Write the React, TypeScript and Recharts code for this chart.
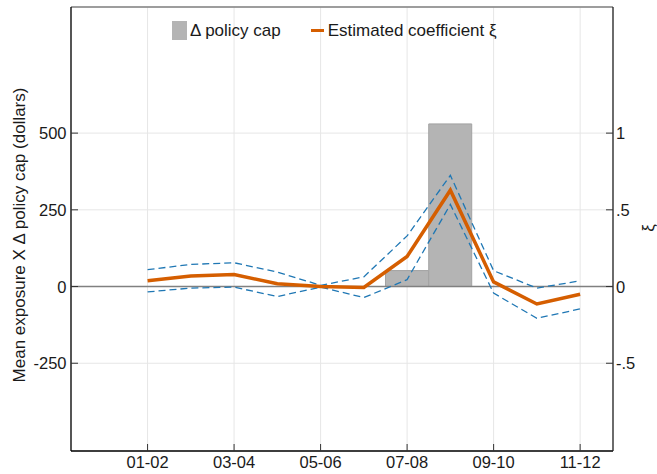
import { ComposedChart, Bar, Line, XAxis, YAxis, CartesianGrid, ReferenceLine } from 'recharts';

const periods = ['01-02', '02-03', '03-04', '04-05', '05-06', '06-07', '07-08', '08-09', '09-10', '10-11', '11-12'];
const capChange = [0, 0, 0, 0, 0, 0, 52, 530, 0, 0, 0];
const coef = [0.037, 0.068, 0.078, 0.018, 0, -0.006, 0.196, 0.628, 0.03, -0.114, -0.05];
const ciUpper = [0.11, 0.144, 0.155, 0.094, 0.008, 0.063, 0.33, 0.725, 0.103, -0.01, 0.037];
const ciLower = [-0.035, -0.01, -0.004, -0.065, -0.004, -0.072, 0.045, 0.535, -0.043, -0.207, -0.146];

const xTicks = [0, 2, 4, 6, 8, 10];
const leftTicks = [-250, 0, 250, 500];
const rightTicks = [-0.5, 0, 0.5, 1];
const rightTickLabels: Record<string, string> = { '-0.5': '-.5', '0': '0', '0.5': '.5', '1': '1' };

const LEFT_DOMAIN: [number, number] = [-536, 911];
const RIGHT_DOMAIN: [number, number] = [LEFT_DOMAIN[0] / 500, LEFT_DOMAIN[1] / 500];

const FONT = '"Liberation Sans", Arial, Helvetica, sans-serif';
const INK = '#1a1a1a';
const ORANGE = '#d55e00';
const BLUE = '#1f77b4';
const GRAY = '#b4b4b4';
const TICK_FS = 16.5;

const data = periods.map((p, i) => ({
  i,
  period: p,
  cap: capChange[i],
  coef: coef[i],
  upper: ciUpper[i],
  lower: ciLower[i],
}));

function LeftTick(props: any) {
  const { x, y, payload } = props;
  return (
    <g>
      <line x1={x} x2={x + 7} y1={y} y2={y} stroke="#333" strokeWidth={1} />
      <text x={x - 4.5} y={y + 6} textAnchor="end" fontSize={TICK_FS} fill={INK} fontFamily={FONT}>
        {payload.value}
      </text>
    </g>
  );
}

function RightTick(props: any) {
  const { x, y, payload } = props;
  return (
    <g>
      <line x1={x - 7} x2={x} y1={y} y2={y} stroke="#333" strokeWidth={1} />
      <text x={x + 3} y={y + 6} textAnchor="start" fontSize={TICK_FS} fill={INK} fontFamily={FONT}>
        {rightTickLabels[String(payload.value)]}
      </text>
    </g>
  );
}

function BottomTick(props: any) {
  const { x, y, payload } = props;
  return (
    <g>
      <line x1={x} x2={x} y1={y - 7} y2={y} stroke="#333" strokeWidth={1} />
      <text x={x} y={y + 17} textAnchor="middle" fontSize={TICK_FS} fill={INK} fontFamily={FONT}>
        {periods[payload.value]}
      </text>
    </g>
  );
}

function LegendOverlay() {
  return (
    <div
      style={{
        position: 'absolute',
        top: 21,
        left: 172,
        display: 'flex',
        alignItems: 'center',
        fontFamily: FONT,
        fontSize: 17,
        color: INK,
        lineHeight: '19px',
        whiteSpace: 'nowrap',
      }}
    >
      <span style={{ display: 'inline-block', width: 15, height: 19, background: GRAY, marginRight: 3 }} />
      <span>Δ policy cap</span>
      <span style={{ display: 'inline-block', width: 13, height: 3, background: ORANGE, marginLeft: 30, marginRight: 4 }} />
      <span>Estimated coefficient ξ</span>
    </div>
  );
}

export default function App() {
  return (
    <div style={{ position: 'absolute', left: 0, top: 0, width: 657, height: 474, background: '#fff' }}>
      <ComposedChart width={657} height={474} data={data} margin={{ top: 7, right: 0, left: 0, bottom: 0 }}>
        <CartesianGrid yAxisId="left" stroke="#e6e6e6" strokeWidth={1} />
        <XAxis
          dataKey="i"
          type="number"
          domain={[-1.77, 10.76]}
          ticks={xTicks}
          height={23}
          tickSize={0}
          tickMargin={0}
          tickLine={false}
          tick={<BottomTick />}
          axisLine={{ stroke: '#000', strokeWidth: 1.3 }}
          allowDataOverflow
        />
        <YAxis
          yAxisId="left"
          orientation="left"
          width={71}
          domain={LEFT_DOMAIN}
          ticks={leftTicks}
          tickSize={0}
          tickMargin={0}
          tickLine={false}
          tick={<LeftTick />}
          axisLine={{ stroke: '#000', strokeWidth: 1.3 }}
          allowDataOverflow
          label={{
            content: () => (
              <text
                x={25}
                y={235}
                transform="rotate(-90 25 235)"
                textAnchor="middle"
                fontSize={17}
                fill={INK}
                fontFamily={FONT}
              >
                Mean exposure X Δ policy cap (dollars)
              </text>
            ),
          }}
        />
        <YAxis
          yAxisId="right"
          orientation="right"
          width={44}
          domain={RIGHT_DOMAIN}
          ticks={rightTicks}
          tickSize={0}
          tickMargin={0}
          tickLine={false}
          tick={<RightTick />}
          axisLine={{ stroke: '#222', strokeWidth: 1.3 }}
          allowDataOverflow
          label={{
            content: () => (
              <text
                x={654}
                y={228}
                transform="rotate(-90 654 228)"
                textAnchor="middle"
                fontSize={17}
                fill={INK}
                fontFamily={FONT}
              >
                ξ
              </text>
            ),
          }}
        />
        <Bar
          yAxisId="left"
          dataKey="cap"
          barSize={43}
          fill={GRAY}
          stroke="#a3a3a3"
          strokeWidth={1}
          isAnimationActive={false}
        />
        <ReferenceLine yAxisId="left" y={0} stroke="#808080" strokeWidth={1.6} />
        <ReferenceLine yAxisId="left" y={LEFT_DOMAIN[1]} stroke="#808080" strokeWidth={1.6} />
        <Line
          yAxisId="right"
          dataKey="upper"
          stroke={BLUE}
          strokeWidth={1.3}
          strokeDasharray="7 4"
          dot={false}
          activeDot={false}
          isAnimationActive={false}
        />
        <Line
          yAxisId="right"
          dataKey="lower"
          stroke={BLUE}
          strokeWidth={1.3}
          strokeDasharray="7 4"
          dot={false}
          activeDot={false}
          isAnimationActive={false}
        />
        <Line
          yAxisId="right"
          dataKey="coef"
          stroke={ORANGE}
          strokeWidth={3.5}
          strokeLinejoin="miter"
          dot={false}
          activeDot={false}
          isAnimationActive={false}
        />
      </ComposedChart>
      <LegendOverlay />
    </div>
  );
}
